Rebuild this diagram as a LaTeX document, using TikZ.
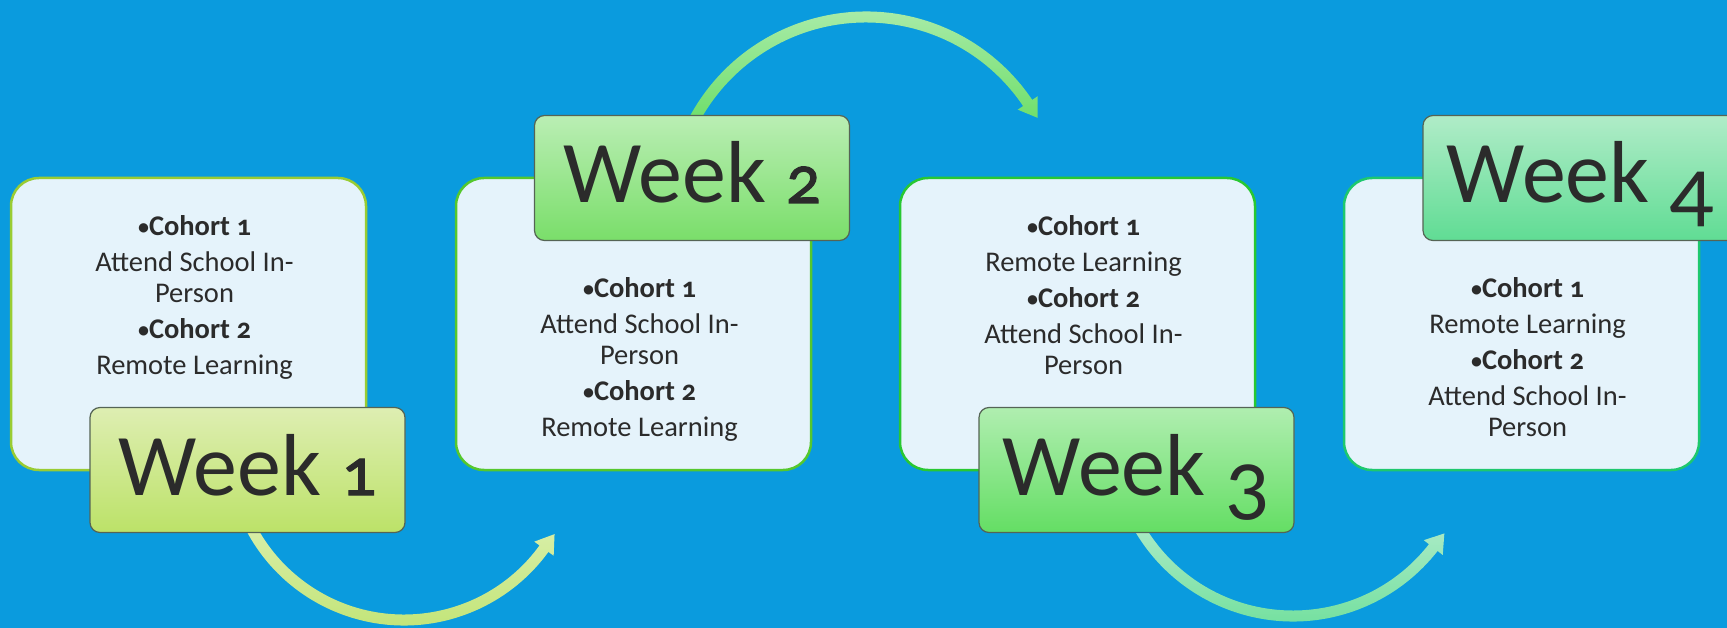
\documentclass[tikz,border=0pt]{standalone}
\usepackage{fontspec}
\setmainfont{Carlito}[Numbers=OldStyle]
\usetikzlibrary{calc}
\definecolor{bg}{RGB}{10,155,222}
\definecolor{boxfill}{RGB}{229,243,251}
\definecolor{txt}{RGB}{43,43,43}
\definecolor{lbd}{RGB}{85,100,85}
\definecolor{bdA}{RGB}{153,204,51}
\definecolor{bdB}{RGB}{85,200,45}
\definecolor{bdC}{RGB}{40,200,50}
\definecolor{bdD}{RGB}{30,200,110}
\definecolor{wAt}{RGB}{222,238,178}
\definecolor{wAb}{RGB}{188,226,104}
\definecolor{wBt}{RGB}{186,238,180}
\definecolor{wBb}{RGB}{122,222,106}
\definecolor{wCt}{RGB}{176,238,176}
\definecolor{wCb}{RGB}{100,222,100}
\definecolor{wDt}{RGB}{176,236,200}
\definecolor{wDb}{RGB}{96,220,148}
\definecolor{aAt}{RGB}{218,240,172}
\definecolor{aAb}{RGB}{190,226,110}
\definecolor{aBt}{RGB}{182,238,182}
\definecolor{aBb}{RGB}{108,222,104}
\definecolor{aCt}{RGB}{178,236,204}
\definecolor{aCb}{RGB}{104,222,150}
\tikzset{
  cbox/.style={draw, line width=2.5pt, fill=boxfill, rounded corners=28pt,
    minimum width=355pt, minimum height=292pt, inner sep=0pt},
  wlabel/.style={draw=lbd, line width=1.2pt, rounded corners=10pt,
    minimum width=315pt, minimum height=125pt, inner sep=0pt, text=txt,
    font=\fontsize{88}{100}\selectfont, text height=50pt, text depth=0pt},
  btext/.style={text=txt, font=\fontsize{28.5}{31}\selectfont, inner sep=0pt, anchor=base},
}
% small bullet
\newcommand\blt{{\fontsize{22}{22}\selectfont\raisebox{1.7pt}{•}}}
% old-style digits for the week labels
\newcommand\smalldig[1]{\scalebox{0.78}{\addfontfeature{FakeBold=1.5}#1}}
\newcommand\lowdig[1]{\raisebox{-16pt}{#1}}
% #1 centre coordinate, #2 mid radius, #3 start angle, #4 end angle,
% #5 tangent offset (+90 or -90), #6 top colour, #7 bottom colour
\newcommand\arcarrow[7]{%
  \shade[top color=#6, bottom color=#7]
    ($#1+(#3:#2+5.5)$) arc[start angle=#3, end angle=#4, radius=#2+5.5]
    -- ($#1+(#4:#2+12)$)
    -- ($#1+(#4:#2)+(#4#5:18)$)
    -- ($#1+(#4:#2-12)$)
    -- ($#1+(#4:#2-5.5)$)
    arc[start angle=#4, end angle=#3, radius=#2-5.5] -- cycle;}
\begin{document}
\begin{tikzpicture}[x=1pt,y=-1pt]
\path[use as bounding box, fill=bg] (0,0) rectangle (1727,628);
\clip (0,0) rectangle (1727,628);
% arrows
\coordinate (cA) at (404,447);
\coordinate (cB) at (866,212);
\coordinate (cC) at (1293,438);
\arcarrow{(cA)}{173}{155}{36}{-90}{aAt}{aAb}
\arcarrow{(cB)}{195}{207}{326}{+90}{aBt}{aBb}
\arcarrow{(cC)}{178}{155}{38}{-90}{aCt}{aCb}
% content boxes
\node[cbox, draw=bdA] (b1) at (188.5,324) {};
\node[cbox, draw=bdB] (b2) at (633.5,324) {};
\node[cbox, draw=bdC] (b3) at (1077.5,324) {};
\node[cbox, draw=bdD] (b4) at (1521.5,324) {};
% week labels
\node[wlabel, top color=wAt, bottom color=wAb] (w1) at (247.5,470) {Week \smalldig{1}};
\node[wlabel, top color=wBt, bottom color=wBb] (w2) at (692,178) {Week \smalldig{2}};
\node[wlabel, top color=wCt, bottom color=wCb] (w3) at (1136.5,470) {Week \lowdig{3}};
\node[wlabel, top color=wDt, bottom color=wDb] (w4) at (1580.5,178) {Week \lowdig{4}};
% texts
\node[btext] (t1) at (194.5,236) {\begin{tabular}[t]{@{}c@{}}
  \textbf{\blt Cohort 1}\\[5pt] Attend School In-\\ Person\\[5pt]
  \textbf{\blt Cohort 2}\\[5pt] Remote Learning\end{tabular}};
\node[btext] (t2) at (639.5,298) {\begin{tabular}[t]{@{}c@{}}
  \textbf{\blt Cohort 1}\\[5pt] Attend School In-\\ Person\\[5pt]
  \textbf{\blt Cohort 2}\\[5pt] Remote Learning\end{tabular}};
\node[btext] (t3) at (1083.5,236) {\begin{tabular}[t]{@{}c@{}}
  \textbf{\blt Cohort 1}\\[5pt] Remote Learning\\[5pt]
  \textbf{\blt Cohort 2}\\[5pt] Attend School In-\\ Person\end{tabular}};
\node[btext] (t4) at (1527.5,298) {\begin{tabular}[t]{@{}c@{}}
  \textbf{\blt Cohort 1}\\[5pt] Remote Learning\\[5pt]
  \textbf{\blt Cohort 2}\\[5pt] Attend School In-\\ Person\end{tabular}};
\end{tikzpicture}
\end{document}
